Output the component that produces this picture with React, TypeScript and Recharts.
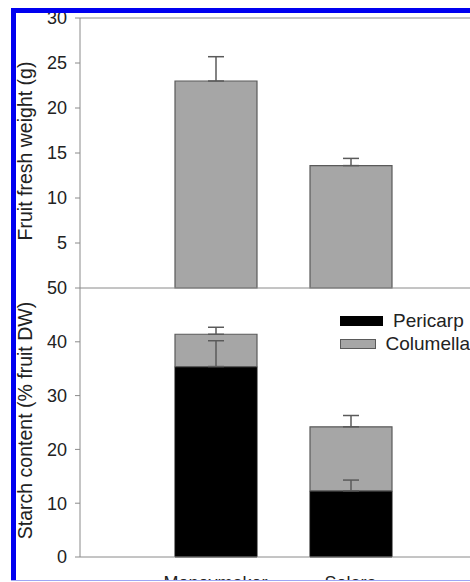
import { Bar, BarChart, ErrorBar, Legend, ReferenceLine, XAxis, YAxis } from "recharts";

const cultivars = ["Moneymaker", "Solara"];
const freshWeight = [23.0, 13.6];
const freshWeightErr = [2.7, 0.8];
const pericarpStarch = [35.4, 12.3];
const pericarpErr = [4.8, 2.0];
const columellaStarch = [6.0, 11.9];
const columellaErr = [1.3, 2.1];
const weightTicks = [5, 10, 15, 20, 25, 30];
const starchTicks = [0, 10, 20, 30, 40, 50];
const legendOrder = ["Pericarp", "Columella"];

// errors are drawn upward only, as [below, above]
const weightData = cultivars.map((name, i) => ({
  name,
  weight: freshWeight[i],
  weightErr: [0, freshWeightErr[i]],
}));

const starchData = cultivars.map((name, i) => ({
  name,
  pericarp: pericarpStarch[i],
  pericarpErr: [0, pericarpErr[i]],
  columella: columellaStarch[i],
  columellaErr: [0, columellaErr[i]],
}));

const FONT = '"Liberation Sans", Arial, sans-serif';
const AXIS = "#8a8a8a";
const TEXT = "#222";
const GREY = "#a6a6a6";
const EDGE = "#5a5a5a";

const tickStyle = { fill: TEXT, fontSize: 18, fontFamily: FONT };

function AxisTitle({ viewBox, text }: any) {
  const cx = viewBox.x + 25;
  const cy = viewBox.y + viewBox.height / 2 - 2;
  return (
    <text
      x={cx}
      y={cy}
      transform={`rotate(-90 ${cx} ${cy})`}
      textAnchor="middle"
      dominantBaseline="central"
      fontSize={19.5}
      fontFamily={FONT}
      fill={TEXT}
    >
      {text}
    </text>
  );
}

function StarchLegend({ payload }: any) {
  const items = [...(payload || [])].sort(
    (a: any, b: any) => legendOrder.indexOf(a.value) - legendOrder.indexOf(b.value),
  );
  return (
    <div style={{ fontFamily: FONT, fontSize: 19, color: TEXT }}>
      {items.map((entry: any) => (
        <div key={entry.value} style={{ display: "flex", alignItems: "center", height: 23 }}>
          <span
            style={{
              display: "inline-block",
              width: 41,
              height: 8,
              background: entry.color,
              border: `1px solid ${entry.color === "#000" ? "#000" : EDGE}`,
              marginRight: 10,
            }}
          />
          <span style={{ whiteSpace: "nowrap" }}>{entry.value}</span>
        </div>
      ))}
    </div>
  );
}

export default function App() {
  return (
    <div
      style={{
        position: "fixed",
        left: 0,
        top: 0,
        width: 470,
        height: 581,
        overflow: "hidden",
        background: "#fff",
        fontFamily: FONT,
      }}
    >
      <div style={{ position: "absolute", left: 0, top: 0 }}>
        <BarChart width={486} height={300} data={weightData} barSize={82} margin={{ top: 18, right: 0, bottom: 0, left: 0 }}>
          <XAxis
            dataKey="name"
            height={12}
            tick={false}
            tickLine={false}
            axisLine={{ stroke: AXIS }}
            padding={{ left: 68, right: 68 }}
          />
          <YAxis
            width={80}
            domain={[0, 30]}
            ticks={weightTicks}
            interval={0}
            tickSize={5}
            tickMargin={8}
            tick={tickStyle}
            tickLine={{ stroke: AXIS }}
            axisLine={{ stroke: AXIS }}
            label={<AxisTitle text="Fruit fresh weight (g)" />}
          />
          <ReferenceLine y={30} stroke={AXIS} />
          <Bar dataKey="weight" fill={GREY} stroke={EDGE} strokeWidth={1.2} isAnimationActive={false}>
            <ErrorBar dataKey="weightErr" direction="y" width={8} stroke={EDGE} strokeWidth={1.5} />
          </Bar>
        </BarChart>
      </div>

      <div style={{ position: "absolute", left: 0, top: 258 }}>
        <BarChart width={486} height={330} data={starchData} barSize={82} margin={{ top: 30, right: 0, bottom: 0, left: 0 }}>
          <XAxis
            dataKey="name"
            height={31}
            tickLine={false}
            tickSize={0}
            tickMargin={19}
            tick={tickStyle}
            axisLine={{ stroke: AXIS }}
            padding={{ left: 68, right: 68 }}
          />
          <YAxis
            width={80}
            domain={[0, 50]}
            ticks={starchTicks}
            interval={0}
            tickSize={5}
            tickMargin={8}
            tick={tickStyle}
            tickLine={{ stroke: AXIS }}
            axisLine={{ stroke: AXIS }}
            label={<AxisTitle text="Starch content (% fruit DW)" />}
          />
          <Legend
            layout="vertical"
            align="center"
            verticalAlign="middle"
            content={<StarchLegend />}
            wrapperStyle={{ left: 340, top: 51, width: 130, height: 46 }}
          />
          <Bar dataKey="pericarp" name="Pericarp" stackId="starch" fill="#000" stroke="#111" isAnimationActive={false}>
            <ErrorBar dataKey="pericarpErr" direction="y" width={8} stroke={EDGE} strokeWidth={1.5} />
          </Bar>
          <Bar dataKey="columella" name="Columella" stackId="starch" fill={GREY} stroke={EDGE} strokeWidth={1.2} isAnimationActive={false}>
            <ErrorBar dataKey="columellaErr" direction="y" width={8} stroke={EDGE} strokeWidth={1.5} />
          </Bar>
        </BarChart>
      </div>

      <div
        style={{
          position: "absolute",
          left: 11,
          top: 8,
          width: 1000,
          height: 1000,
          borderTop: "5px solid #0000f0",
          borderLeft: "5px solid #0000f0",
          boxSizing: "border-box",
          pointerEvents: "none",
        }}
      />
      <div style={{ position: "absolute", left: 11, top: 580, width: 1000, height: 1, background: "#9ea6f4" }} />
    </div>
  );
}
